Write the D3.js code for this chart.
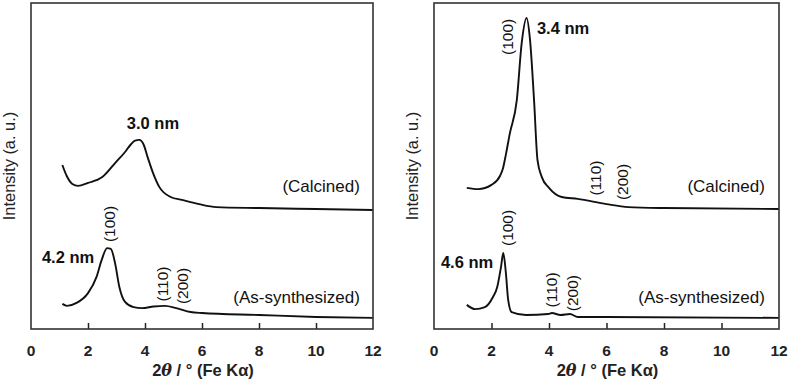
<!DOCTYPE html>
<html>
<head>
<meta charset="utf-8">
<script src="https://cdn.jsdelivr.net/npm/d3@7"></script>
<style>
  body { margin: 0; background: #fff; }
  svg { display: block; font-family: "Liberation Sans", Arial, sans-serif; }
</style>
</head>
<body>
<div id="chart"></div>
<script>
// 2theta (deg) / intensity (a.u.)
const leftCalcined = [[1.10,50.3],[1.25,47.0],[1.45,44.5],[1.65,43.9],[2.0,44.8],[2.5,46.6],[2.95,50.9],[3.3,54.3],[3.5,56.6],[3.65,57.8],[3.8,58.0],[3.95,56.6],[4.1,52.5],[4.28,47.9],[4.5,43.6],[4.9,40.5],[5.3,39.6],[5.9,38.3],[6.5,37.4],[8,37.1],[10,36.8],[12,36.5]];
const leftAsSynth = [[1.1,7.7],[1.26,7.1],[1.6,8.0],[2.0,11.0],[2.3,16.0],[2.48,21.2],[2.67,24.8],[2.8,24.6],[2.95,20.2],[3.1,12.9],[3.3,8.3],[3.6,6.7],[3.9,6.4],[4.3,6.9],[4.7,7.1],[5.1,6.4],[5.6,5.2],[6,4.9],[8,4.3],[10,3.7],[12,3.4]];
const rightCalcined = [[1.14,43.3],[1.54,42.9],[2.0,44.2],[2.3,47.0],[2.4,49.3],[2.5,53.5],[2.64,60.1],[2.88,70.2],[3.05,87.7],[3.22,95.4],[3.34,88.7],[3.48,70.2],[3.6,51.8],[3.75,46.6],[4.0,43.3],[4.44,40.5],[5.0,39.9],[6.0,38.3],[6.76,37.4],[8,37.1],[12,36.8]];
const rightAsSynth = [[1.14,7.4],[1.43,6.1],[1.77,6.7],[2.05,9.8],[2.2,12.9],[2.33,19.0],[2.41,23.3],[2.5,17.2],[2.58,8.9],[2.7,5.2],[3.2,4.3],[3.97,4.6],[4.1,4.9],[4.4,4.3],[4.73,4.6],[5.0,3.7],[6,3.7],[12,3.4]];

const xTicks = [0, 2, 4, 6, 8, 10, 12];

// annotations: [text, x, y, kind]  kind: b = bold size, r = rotated index, e = end-anchored label
const leftNotes = [
  ["3.0 nm", 4.28, 63.2, "b"],
  ["(Calcined)", 11.54, 43.6, "e"],
  ["(100)", 2.77, 32.2, "r"],
  ["4.2 nm", 1.3, 22.1, "b"],
  ["(110)", 4.63, 13.8, "r"],
  ["(200)", 5.33, 13.2, "r"],
  ["(As-synthesized)", 11.54, 9.8, "e"]
];
const rightNotes = [
  ["(100)", 2.57, 89.6, "r"],
  ["3.4 nm", 4.49, 92.3, "b"],
  ["(110)", 5.6, 46.3, "r"],
  ["(200)", 6.54, 45.1, "r"],
  ["(Calcined)", 11.51, 43.6, "e"],
  ["(100)", 2.54, 31.0, "r"],
  ["4.6 nm", 1.15, 20.6, "b"],
  ["(110)", 4.1, 12.0, "r"],
  ["(200)", 4.8, 11.0, "r"],
  ["(As-synthesized)", 11.51, 9.8, "e"]
];

const width = 790, height = 384;
const svg = d3.select("#chart").append("svg")
  .attr("width", width)
  .attr("height", height);

function drawPanel(box, series, notes) {
  const x = d3.scaleLinear().domain([0, 12]).range([box.left, box.right]);
  const y = d3.scaleLinear().domain([0, 100]).range([box.bottom, box.top]);
  const g = svg.append("g");

  const line = d3.line()
    .x(d => x(d[0]))
    .y(d => y(d[1]))
    .curve(d3.curveMonotoneX);

  series.forEach(s => {
    g.append("path")
      .attr("d", line(s))
      .attr("fill", "none")
      .attr("stroke", "#111")
      .attr("stroke-width", 1.9)
      .attr("stroke-linejoin", "round");
  });

  // inward ticks on the bottom edge
  const axis = d3.axisTop(x).tickValues(xTicks.slice(1, -1)).tickSize(6).tickFormat("");
  g.append("g")
    .attr("transform", `translate(0,${box.bottom})`)
    .call(axis)
    .call(a => a.select(".domain").remove())
    .selectAll("line").attr("stroke", "#222").attr("stroke-width", 1.5);

  g.selectAll(".tl").data(xTicks).enter().append("text")
    .attr("x", d => x(d))
    .attr("y", box.bottom + 27)
    .attr("text-anchor", "middle")
    .attr("font-size", 15.5)
    .attr("font-weight", "bold")
    .attr("fill", "#222")
    .text(d => d);

  g.append("rect")
    .attr("x", box.left).attr("y", box.top)
    .attr("width", box.right - box.left).attr("height", box.bottom - box.top)
    .attr("fill", "none").attr("stroke", "#333").attr("stroke-width", 1.6);

  const title = g.append("text")
    .attr("x", (box.left + box.right) / 2 + 1)
    .attr("y", 376)
    .attr("text-anchor", "middle")
    .attr("font-size", 16.5)
    .attr("font-weight", "bold")
    .attr("fill", "#222");
  title.append("tspan").text("2");
  title.append("tspan").attr("font-style", "italic").attr("font-family", "'DejaVu Serif', serif").attr("font-size", 16).text("θ");
  title.append("tspan").text(" / ° (Fe Kα)");

  g.append("text")
    .attr("transform", `translate(${box.left - 16},${(box.top + box.bottom) / 2}) rotate(-90)`)
    .attr("text-anchor", "middle")
    .attr("font-size", 16.4)
    .attr("fill", "#222")
    .text("Intensity (a. u.)");

  notes.forEach(n => {
    const [txt, nx, ny, kind] = n;
    const t = g.append("text")
      .attr("fill", "#111")
      .attr("dominant-baseline", "central")
      .text(txt);
    if (kind === "r") {
      t.attr("transform", `translate(${x(nx)},${y(ny)}) rotate(-90)`)
        .attr("text-anchor", "middle").attr("font-size", 15.5);
    } else if (kind === "b") {
      t.attr("x", x(nx)).attr("y", y(ny))
        .attr("text-anchor", "middle").attr("font-size", 16.5).attr("font-weight", "bold");
    } else {
      t.attr("x", x(nx)).attr("y", y(ny))
        .attr("text-anchor", "end").attr("font-size", 17);
    }
  });
}

drawPanel({ left: 31, right: 373, top: 3, bottom: 329 }, [leftCalcined, leftAsSynth], leftNotes);
drawPanel({ left: 434, right: 779, top: 3, bottom: 329 }, [rightCalcined, rightAsSynth], rightNotes);
</script>
</body>
</html>
